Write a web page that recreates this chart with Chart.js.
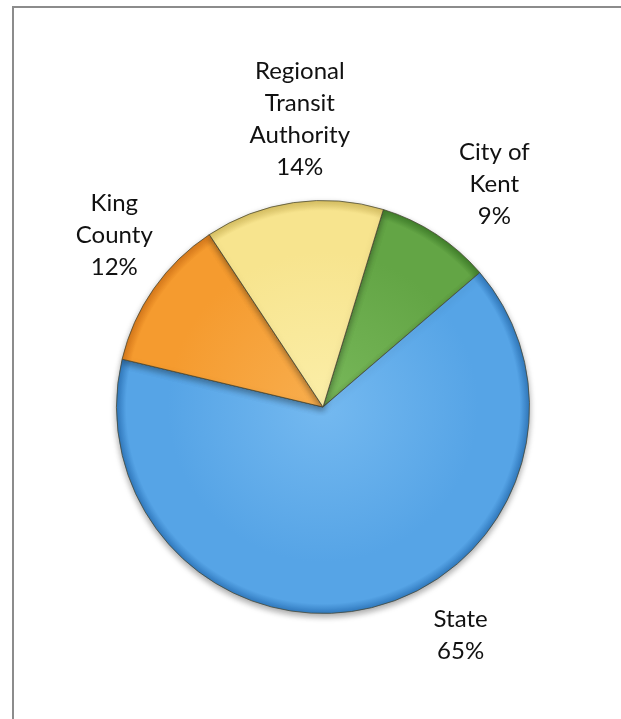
<!DOCTYPE html>
<html>
<head>
<meta charset="utf-8">
<script src="https://cdn.jsdelivr.net/npm/chart.js@4/dist/chart.umd.min.js"></script>
<style>
  html, body { margin: 0; padding: 0; background: #ffffff; }
  #wrap { position: relative; width: 621px; height: 719px; overflow: hidden; }
  #frame { position: absolute; left: 12px; top: 6px; right: -10px; bottom: -10px;
           border-top: 2px solid #8c8c8c; border-left: 2px solid #8c8c8c; }
  canvas { position: absolute; left: 0; top: 0; }
</style>
</head>
<body>
<div id="wrap">
  <div id="frame"></div>
  <canvas id="c" width="621" height="719"></canvas>
</div>
<script>
// ---- data ----
const categories = ["City of Kent", "State", "King County", "Regional Transit Authority"];
const shares = [9, 65, 12, 14];
const labelLines = [["City of", "Kent"], ["State"], ["King", "County"], ["Regional", "Transit", "Authority"]];

// ---- styling / placement (not data) ----
const sliceColors = ["#63a545", "#56a4e6", "#f59b2f", "#f7e48e"];
const sliceDark   = ["#3f7f2a", "#2f78bd", "#d9791a", "#d9c060"];
const sliceLight  = ["#78b85a", "#74b9f0", "#f8ae4e", "#fbeea8"];
const labelAngleShift = [4.4, -17.5, 4.5, 3.6];   // degrees relative to slice middle
const labelRadiusFactor = [1.36, 1.29, 1.31, 1.40];

function sliceFill(ctx) {
  const chart = ctx.chart;
  const i = ctx.dataIndex;
  const area = chart.chartArea;
  if (!area) return sliceColors[i];
  const cx = (area.left + area.right) / 2;
  const cy = (area.top + area.bottom) / 2;
  const r = Math.min(area.width, area.height) / 2;
  const g = chart.ctx.createRadialGradient(cx, cy, 0, cx, cy, r);
  g.addColorStop(0, sliceLight[i]);
  g.addColorStop(0.75, sliceColors[i]);
  g.addColorStop(0.95, sliceColors[i]);
  g.addColorStop(1, sliceDark[i]);
  return g;
}

const shadowPlugin = {
  id: 'shadow',
  beforeDatasetsDraw(chart) {
    const c = chart.ctx;
    c.save();
    c.shadowColor = 'rgba(0,0,0,0.35)';
    c.shadowBlur = 6;
    c.shadowOffsetY = 3;
  },
  afterDatasetsDraw(chart) {
    chart.ctx.restore();
  }
};

const outsideLabels = {
  id: 'outsideLabels',
  afterDraw(chart) {
    const c = chart.ctx;
    const meta = chart.getDatasetMeta(0);
    c.save();
    c.fillStyle = '#111111';
    c.font = '24px Lato, "Open Sans", sans-serif';
    c.textAlign = 'center';
    c.textBaseline = 'middle';
    const lh = 32;
    meta.data.forEach((arc, i) => {
      const p = arc.getProps(['x', 'y', 'startAngle', 'endAngle', 'outerRadius'], true);
      const mid = (p.startAngle + p.endAngle) / 2 + labelAngleShift[i] * Math.PI / 180;
      const d = p.outerRadius * labelRadiusFactor[i];
      const lx = p.x + Math.cos(mid) * d;
      const ly = p.y + Math.sin(mid) * d;
      const lines = labelLines[i].concat([shares[i] + '%']);
      const y0 = ly - (lines.length - 1) * lh / 2;
      lines.forEach((t, k) => c.fillText(t, lx, y0 + k * lh));
    });
    c.restore();
  }
};

new Chart(document.getElementById('c'), {
  type: 'pie',
  data: {
    labels: categories,
    datasets: [{
      data: shares,
      backgroundColor: sliceFill,
      borderColor: 'rgba(70,70,50,0.75)',
      borderWidth: 1
    }]
  },
  options: {
    responsive: false,
    animation: false,
    rotation: 17,
    layout: { padding: { left: 116, right: 91, top: 200, bottom: 105 } },
    plugins: {
      legend: { display: false },
      tooltip: { enabled: false }
    }
  },
  plugins: [shadowPlugin, outsideLabels]
});
</script>
</body>
</html>
